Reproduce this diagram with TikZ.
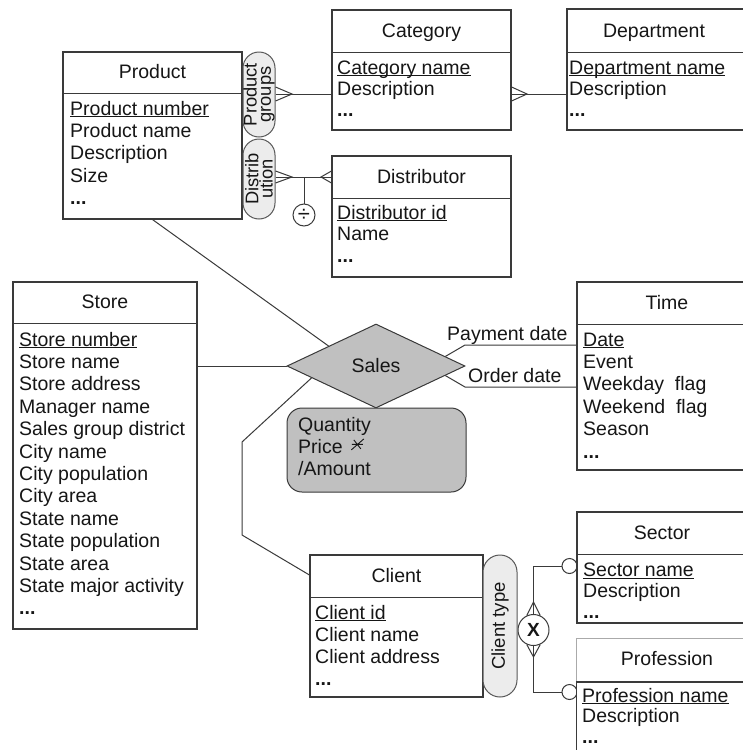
\documentclass[tikz,border=0pt]{standalone}
\usepackage{fontspec}
\setmainfont{Liberation Sans}
\usetikzlibrary{shapes.geometric,calc,fit}

\definecolor{edgecol}{RGB}{58,58,58}
\definecolor{lightedge}{RGB}{170,170,170}
\definecolor{ink}{RGB}{22,22,22}
\definecolor{relfill}{RGB}{192,192,192}
\definecolor{pillfill}{RGB}{236,236,236}

% underlined identifier (line runs through descenders)
\newcommand\keyattr[1]{\sbox0{#1}\rlap{\rule[-2.2pt]{\wd0}{0.9pt}}\usebox0}
\newcommand\more{\textbf{...}}

\tikzset{
  link/.style={draw=edgecol, line width=1pt},
  entity/.style={draw=edgecol, line width=1.1pt, fill=white, inner sep=0pt},
  pill/.style={draw=edgecol!85, line width=1pt, fill=pillfill, inner sep=0pt},
  ring/.style={circle, draw=edgecol, line width=1pt, fill=white, inner sep=0pt},
  txt/.style={inner sep=0pt, text=ink, font=\fontsize{19.5}{22.4}\selectfont},
  pilltext/.style={inner sep=0pt, text=ink, font=\fontsize{18.3}{14.2}\selectfont},
}

% entity box: name, x1, y1, x2, y2, divider y, title centre x, title
\newcommand\erentity[8]{%
  \node[entity, fit={(#2,#3) (#4,#5)}] (#1) {};
  \draw[link] (#1.west |- 0,#6) -- (#1.east |- 0,#6);
  \node[txt, anchor=base] (#1-title) at (#7,{#6-15}) {#8};}

% attribute rows: name, x, first baseline, list (optional row step)
\newcommand\erattributes[5][22.4]{%
  \foreach \attrline [count=\k from 0] in {#5}
    \node[txt, anchor=base west] (#2-\k) at (#3,{#4+#1*\k}) {\attrline};}

\begin{document}
\begin{tikzpicture}[x=1pt,y=-1pt]
\clip (0,0) rectangle (743,750);
\fill[white] (0,0) rectangle (743,750);

% small circles (drawn first so box borders lie on top)
\node[ring, minimum size=15pt] (sectorring) at (569.5,566) {};
\node[ring, minimum size=15pt] (profring) at (569.5,692) {};
\node[ring, minimum size=31pt, font=\fontsize{19}{19}\selectfont\bfseries, text=ink] (xor) at (533.5,630) {X};
\node[ring, minimum size=22pt, font=\fontsize{22}{22}\selectfont, text=ink] (div) at (304,215) {÷};

% entities
\erentity{product}{63}{52}{242}{219}{93}{152.5}{Product}
\erattributes{product}{70}{115}{\keyattr{Product number},Product name,Description,Size,\more}

\erentity{category}{332}{10}{511}{130}{52}{421.5}{Category}
\erattributes[21]{category}{337}{74}{\keyattr{Category name},Description,\more}

\erentity{department}{567}{9}{760}{130}{52}{654}{Department}
\erattributes[21]{department}{569}{74}{\keyattr{Department name},Description,\more}

\erentity{distributor}{332}{156}{511}{277}{198}{421.5}{Distributor}
\erattributes[21.5]{distributor}{337}{219}{\keyattr{Distributor id},Name,\more}

\erentity{store}{13}{282}{197}{629}{323}{105}{Store}
\erattributes{store}{19}{346}{\keyattr{Store number},Store name,Store address,Manager name,Sales group district,City name,City population,City area,State name,State population,State area,State major activity,\more}

\erentity{time}{577}{282}{760}{470}{324}{667}{Time}
\erattributes{time}{583}{346}{\keyattr{Date},Event,Weekday\ \ flag,Weekend\ \ flag,Season,\more}

\erentity{client}{310}{555}{483}{697}{597}{396.5}{Client}
\erattributes[22]{client}{315}{619}{\keyattr{Client id},Client name,Client address,\more}

\erentity{sector}{577}{512}{760}{623}{554}{662}{Sector}
\erattributes[20.8]{sector}{583}{576.5}{\keyattr{Sector name},Description,\more}

% Profession: light header outline, dark attribute part
\node[entity, draw=none, fit={(577,639) (760,760)}] (profession) {};
\draw[line width=1.1pt, draw=lightedge] (profession.west |- 0,682) -- (profession.north west) -- (profession.north east);
\draw[line width=1.1pt, draw=edgecol] (profession.south west) -- (profession.west |- 0,682) -- (profession.east |- 0,682);
\node[txt, anchor=base] (profession-title) at (667,665) {Profession};
\erattributes[20.5]{profession}{582}{702}{\keyattr{Profession name},Description,\more}

% fact relationship and its measures
\node[diamond, draw=edgecol, line width=1pt, fill=relfill, minimum width=178pt, minimum height=84pt, txt] (sales) at (376,366) {Sales};
\node[fit={(287,408) (466,492)}, draw=edgecol, line width=1pt, fill=relfill, rounded corners=15pt, inner sep=0pt] (measures) {};
\erattributes{measures}{298}{431}{Quantity,Price,/Amount}
% non-additive mark after Price
\draw[line width=0.9pt, draw=ink]
  ($(measures-1.base east)+(9,-9)$) -- ($(measures-1.base east)+(20,-9)$)
  ($(measures-1.base east)+(11,-13.5)$) -- ($(measures-1.base east)+(18,-4.5)$)
  ($(measures-1.base east)+(8.5,-3.5)$) -- ($(measures-1.base east)+(21,-14.5)$);

% hierarchy pills
\node[pill, rounded corners=16pt, fit={(243,52) (275,137)}] (groups) {};
\node[pilltext, rotate=90, align=center] (groups-label) at (groups.center) {Product\\groups};
\node[pill, rounded corners=16pt, fit={(243,139) (275,219)}] (distrib) {};
\node[pilltext, rotate=90, align=center] (distrib-label) at (distrib.center) {Distrib\\ution};
\node[pill, rounded corners=17pt, fit={(483,555) (517,697)}] (clienttype) {};
\node[pilltext, rotate=90, font=\fontsize{18.5}{18.5}\selectfont] (clienttype-label) at (clienttype.center) {Client type};

% Product groups: Product -> Category -> Department
\draw[link] (groups.east |- 0,94) -- (category.west |- 0,94);
\draw[link] (groups.east |- 0,87) -- (292,94) -- (groups.east |- 0,101);
\draw[link] (category.east |- 0,94) -- (department.west |- 0,94);
\draw[link] (category.east |- 0,87) -- (527,94) -- (category.east |- 0,101);

% Distribution: Product -> Distributor
\draw[link] (distrib.east |- 0,177) -- (distributor.west |- 0,177);
\draw[link] (distrib.east |- 0,171) -- (292,177) -- (distrib.east |- 0,183);
\draw[link] (distributor.west |- 0,171) -- (321,177) -- (distributor.west |- 0,183);
\draw[link] (div.north) -- (div.north |- 0,177);

% Sales roles
\draw[link] (product.south) -- ($(sales.west)!0.47!(sales.north)$);
\draw[link] (store.east |- sales.west) -- (sales.west);
\coordinate (clientbendA) at (242,442);
\coordinate (clientbendB) at (242,535);
\draw[link] ($(sales.west)!0.28!(sales.south)$) -- (clientbendA) -- (clientbendB) -- (client.west |- 0,575);
\coordinate (paybend) at (465,345);
\coordinate (orderbend) at (465,387);
\draw[link] ($(sales.north)!0.775!(sales.east)$) -- (paybend) -- (time.west |- paybend);
\draw[link] ($(sales.east)!0.225!(sales.south)$) -- (orderbend) -- (time.west |- orderbend);
\node[txt, anchor=base west] (paylabel) at (447,340) {Payment date};
\node[txt, anchor=base west] (orderlabel) at (468,382) {Order date};

% Client type: exclusive generalisation to Sector / Profession
\coordinate (xtop) at (533.5,602);
\coordinate (xbot) at (533.5,657);
\coordinate (sectorjoin) at (533.5,566);
\coordinate (profjoin) at (533.5,692);
\draw[link] (xor.115) -- (xtop) -- (xor.65);
\draw[link] (xor.245) -- (xbot) -- (xor.295);
\draw[link] (xor.north) -- (sectorjoin) -- (sectorring.west);
\draw[link] (xor.south) -- (profjoin) -- (profring.west);
\end{tikzpicture}
\end{document}
